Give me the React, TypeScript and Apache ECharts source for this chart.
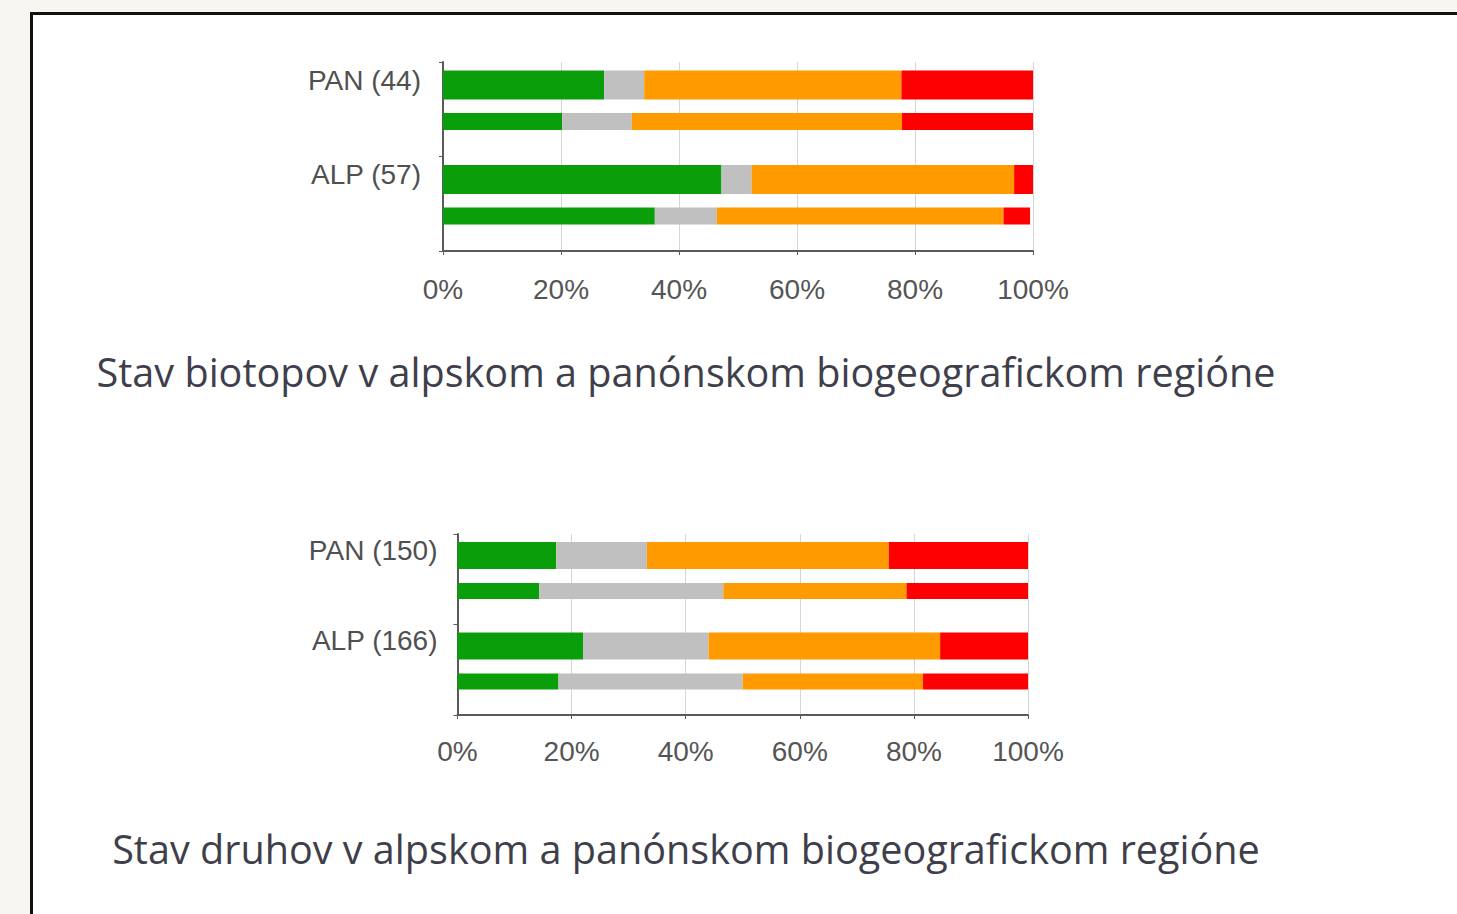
import React, { useEffect, useRef } from "react";
import * as echarts from "echarts";

// Status classes (same colour order in both charts)
const statusNames = ["Priaznivý", "Neznámy", "Nepriaznivý – nevyhovujúci", "Nepriaznivý – zlý"];
const statusColors = ["#0a9f0a", "#c0c0c0", "#ff9a00", "#ff0000"];

// Habitats (biotopy): shares in % per region, order = statusNames
const habitatRegions = ["PAN (44)", "ALP (57)"];
const habitatThickBars = [
  [27.3, 6.8, 43.6, 22.3],
  [47.2, 5.1, 44.5, 3.2],
];
const habitatThinBars = [
  [20.2, 11.8, 45.8, 22.2],
  [35.9, 10.5, 48.6, 4.5],
];

// Species (druhy)
const speciesRegions = ["PAN (150)", "ALP (166)"];
const speciesThickBars = [
  [17.3, 15.9, 42.4, 24.4],
  [22.0, 22.0, 40.6, 15.4],
];
const speciesThinBars = [
  [14.3, 32.3, 32.1, 21.3],
  [17.7, 32.3, 31.6, 18.4],
];

const percentTicks = [0, 20, 40, 60, 80, 100];

const captions = [
  "Stav biotopov v alpskom a panónskom biogeografickom regióne",
  "Stav druhov v alpskom a panónskom biogeografickom regióne",
];

const labelFont = "'Liberation Sans', Arial, sans-serif";
const axisColor = "#5a5a5a";

function buildSeries(
  idx: number,
  thick: number[][],
  thin: number[][],
  thickW: number,
  thinW: number,
  spacerW: number,
  gap: string
) {
  const out: any[] = [];
  statusNames.forEach((name, k) => {
    out.push({
      type: "bar",
      name,
      xAxisIndex: idx,
      yAxisIndex: idx,
      stack: "thick" + idx,
      barWidth: thickW,
      barGap: gap,
      silent: true,
      data: thick.map((r) => r[k]),
      itemStyle: { color: statusColors[k] },
    });
  });
  statusNames.forEach((name, k) => {
    out.push({
      type: "bar",
      name,
      xAxisIndex: idx,
      yAxisIndex: idx,
      stack: "thin" + idx,
      barWidth: thinW,
      barGap: gap,
      silent: true,
      data: thin.map((r) => r[k]),
      itemStyle: { color: statusColors[k] },
    });
  });
  out.push({
    type: "bar",
    xAxisIndex: idx,
    yAxisIndex: idx,
    stack: "spacer" + idx,
    barWidth: spacerW,
    barGap: gap,
    silent: true,
    data: thick.map(() => 0),
    itemStyle: { color: "rgba(0,0,0,0)" },
  });
  return out;
}

function xAxisFor(idx: number, margin: number) {
  return {
    type: "value",
    gridIndex: idx,
    min: percentTicks[0],
    max: percentTicks[percentTicks.length - 1],
    interval: percentTicks[1] - percentTicks[0],
    axisLine: { show: true, lineStyle: { color: axisColor, width: 2 } },
    axisTick: { show: true, length: 4, lineStyle: { color: axisColor } },
    splitLine: { show: true, lineStyle: { color: "#d6d6d6", width: 1 } },
    axisLabel: {
      formatter: "{value}%",
      color: "#555555",
      fontFamily: labelFont,
      fontSize: 28,
      margin,
    },
  };
}

function yAxisFor(idx: number, regions: string[], margin: number) {
  return {
    type: "category",
    gridIndex: idx,
    inverse: true,
    data: regions,
    axisLine: { show: true, lineStyle: { color: axisColor, width: 2 } },
    axisTick: { show: true, length: 4, lineStyle: { color: axisColor } },
    axisLabel: {
      color: "#505050",
      fontFamily: labelFont,
      fontSize: 28,
      margin,
      verticalAlign: "bottom",
      lineHeight: 58,
    },
  };
}

export default function App() {
  const ref = useRef<HTMLDivElement>(null);

  useEffect(() => {
    if (!ref.current) return;
    const chart = echarts.init(ref.current, undefined, { renderer: "svg" });
    chart.setOption({
      animation: false,
      grid: [
        { left: 443, top: 62, width: 590, height: 189 },
        { left: 457.5, top: 534, width: 570.5, height: 181 },
      ],
      xAxis: [xAxisFor(0, 24), xAxisFor(1, 22)],
      yAxis: [yAxisFor(0, habitatRegions, 22), yAxisFor(1, speciesRegions, 20)],
      series: [
        ...buildSeries(0, habitatThickBars, habitatThinBars, 29, 17, 10.1, "46.5%"),
        ...buildSeries(1, speciesThickBars, speciesThinBars, 27, 16, 9.2, "51.8%"),
      ],
      graphic: [
        {
          type: "text",
          x: 686,
          y: 372,
          style: {
            text: captions[0],
            fill: "#3f3f4c",
            font: "39.6px 'Open Sans', 'Noto Sans', sans-serif",
            textAlign: "center",
            textVerticalAlign: "middle",
          },
        },
        {
          type: "text",
          x: 686,
          y: 849,
          style: {
            text: captions[1],
            fill: "#3f3f4c",
            font: "39.6px 'Open Sans', 'Noto Sans', sans-serif",
            textAlign: "center",
            textVerticalAlign: "middle",
          },
        },
      ],
    });
    return () => chart.dispose();
  }, []);

  return (
    <div
      style={{
        position: "fixed",
        left: 0,
        top: 0,
        width: 1457,
        height: 914,
        background: "#f8f6f1",
        overflow: "hidden",
      }}
    >
      <div
        style={{
          position: "absolute",
          left: 30,
          top: 12,
          width: 1500,
          height: 1000,
          border: "3px solid #111111",
          background: "#ffffff",
          boxSizing: "border-box",
        }}
      />
      <div
        ref={ref}
        style={{ position: "absolute", left: 0, top: 0, width: 1457, height: 914 }}
      />
    </div>
  );
}
